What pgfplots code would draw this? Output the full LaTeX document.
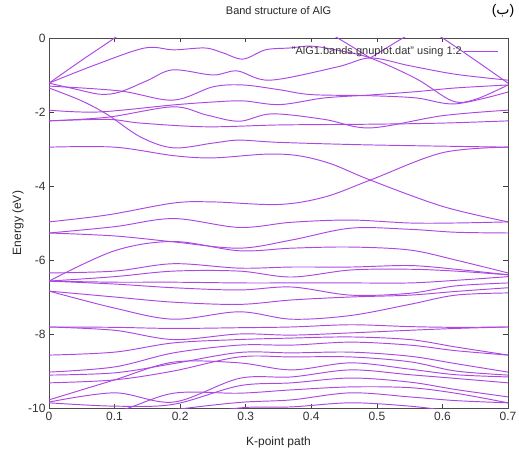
\documentclass[border=0pt]{standalone}
\usepackage{fontspec}
\setmainfont{Liberation Sans}
\newfontfamily\arabicfont[Script=Arabic]{DejaVu Sans}
\TeXXeTstate=1
\usepackage{pgfplots}
\usepackage{pgfplotstable}
\pgfplotsset{compat=1.18}
\definecolor{band}{RGB}{172,72,226}
\pgfplotsset{bandline/.style={color=band, line width=0.95pt, smooth, tension=0.55, mark=none}}

\pgfplotstableread{
k    B1    B2    B3    B4    B5    B6    B7    B8    B9    B10   B11   B12   B13   B14   B15   B16   B17   B18   B19   B20   B21
0    -5.27 -5.27 -6.57 -6.35 -6.57 -6.57 -6.57 -6.84 -6.84 -7.81 -7.81 -8.57 -9.03 -9.11 -9.32 -9.78 -9.84 -9.86 -10.2 -10.5 -11.0
0.1  -5.10 -5.35 -5.75 -6.30 -6.45 -6.60 -6.65 -7.00 -7.30 -7.82 -7.90 -8.49 -8.89 -9.05 -9.24 -9.24 -9.59 -9.95 -10.1 -10.3 -10.6
0.19 -4.88 -5.51 -5.50 -6.10 -6.30 -6.60 -6.75 -7.14 -7.60 -7.85 -8.15 -8.24 -8.51 -8.80 -9.00 -8.76 -9.84 -9.90 -9.60 -10.05 -10.3
0.29 -5.12 -5.68 -5.75 -6.22 -6.30 -6.62 -6.81 -7.20 -7.40 -7.83 -8.00 -8.15 -8.30 -8.50 -8.62 -8.78 -9.20 -9.40 -9.60 -9.85 -10.0
0.37 -4.98 -5.46 -5.68 -6.19 -6.46 -6.62 -6.73 -7.08 -7.60 -7.81 -8.03 -8.11 -8.30 -8.51 -8.62 -8.97 -9.16 -9.32 -9.51 -9.78 -9.97
0.46 -4.92 -5.14 -5.65 -6.19 -6.27 -6.62 -6.95 -7.00 -7.50 -7.75 -7.97 -8.08 -8.22 -8.49 -8.62 -8.78 -8.97 -9.19 -9.43 -9.59 -9.86
0.55 -5.00 -5.17 -5.73 -6.15 -6.25 -6.62 -6.90 -6.95 -7.20 -7.80 -7.90 -8.15 -8.30 -8.60 -8.75 -8.95 -9.10 -9.30 -9.45 -9.70 -9.95
0.62 -5.00 -5.25 -6.00 -6.25 -6.30 -6.55 -6.70 -6.85 -6.95 -7.82 -7.85 -8.35 -8.45 -8.80 -9.00 -9.10 -9.20 -9.50 -9.60 -9.80 -10.1
0.7  -4.97 -5.27 -6.35 -6.40 -6.40 -6.45 -6.62 -6.75 -6.89 -7.81 -7.81 -8.57 -8.57 -9.03 -9.11 -9.16 -9.32 -9.70 -9.86 -9.86 -10.3
}\lowbands

\begin{document}
\begin{tikzpicture}
\path[use as bounding box] (-49pt,-42pt) rectangle (470pt,408pt);
\begin{axis}[
  at={(0pt,0pt)}, anchor=south west,
  scale only axis, width=459pt, height=370pt,
  xmin=0, xmax=0.7, ymin=-10, ymax=0,
  xtick={0,0.1,0.2,0.3,0.4,0.5,0.6,0.7},
  xticklabels={0,0.1,0.2,0.3,0.4,0.5,0.6,0.7},
  ytick={-10,-8,-6,-4,-2,0},
  yticklabels={-10,-8,-6,-4,-2,0},
  tick align=inside,
  major tick length=4.5pt,
  axis line style={black!70, line width=0.9pt},
  every tick/.style={black!75, line width=0.7pt},
  tick label style={font=\fontsize{12}{14}\selectfont, black!80},
  xticklabel style={yshift=-1pt},
  title={Band structure of AlG},
  title style={at={(axis description cs:0.5,1.0568)}, anchor=center, font=\fontsize{11}{13}\selectfont, black!85},
  xlabel={K-point path},
  xlabel style={at={(axis description cs:0.5,-0.0919)}, anchor=center, font=\fontsize{12}{14}\selectfont, black!85},
  ylabel={Energy (eV)},
  ylabel style={at={(axis description cs:-0.0675,0.5)}, anchor=center, font=\fontsize{12}{14}\selectfont, black!85},
  legend style={at={(axis description cs:0.983,0.985)}, anchor=north east, draw=none, fill=none,
    font=\fontsize{11}{13}\selectfont, inner sep=1pt},
  legend plot pos=right,
  legend image code/.code={\color{band}\pgfsetstrokecolor{band}\draw[color=band, line width=1pt] (0cm,0cm) -- (1.2cm,0cm);},
]
% upper bands
\addplot[bandline] coordinates {(0,-1.22)(0.07,-0.73)(0.146,-0.27)(0.19,-0.32)(0.238,-0.27)(0.265,-0.4)(0.296,-0.57)(0.33,-0.32)(0.367,-0.27)(0.40,-0.22)(0.44,-0.33)(0.49,-0.54)(0.56,-1.1)(0.615,-1.7)(0.65,-1.66)(0.7,-1.27)};
\addlegendentry{\textcolor{black!80}{"AlG1.bands.gnuplot.dat" using 1:2}}
\addplot[bandline, forget plot] coordinates {(0,-1.22)(0.05,-0.6)(0.1,0.0)(0.13,0.4)};
\addplot[bandline, forget plot] coordinates {(0,-1.22)(0.04,-1.38)(0.078,-1.52)(0.108,-1.46)(0.15,-1.15)(0.189,-0.86)(0.25,-1.0)(0.287,-0.89)(0.337,-1.14)(0.44,-0.78)(0.49,-0.54)(0.55,-0.75)(0.62,-0.98)(0.7,-1.14)};
\addplot[bandline, forget plot] coordinates {(0.40,0.4)(0.445,-0.05)(0.49,-0.54)};
\addplot[bandline, forget plot] coordinates {(0.49,-0.54)(0.535,-0.05)(0.58,0.4)};
\addplot[bandline, forget plot] coordinates {(0.57,0.3)(0.6,0.0)(0.65,-0.6)(0.7,-1.22)};
\addplot[bandline, forget plot] coordinates {(0,-1.3)(0.108,-1.43)(0.189,-1.68)(0.25,-1.32)(0.296,-1.27)(0.352,-1.4)(0.4,-1.53)(0.49,-1.56)(0.56,-1.62)(0.62,-1.78)(0.7,-1.46)};
\addplot[bandline, forget plot] coordinates {(0,-1.95)(0.075,-2.0)(0.189,-1.81)(0.25,-1.73)(0.296,-1.7)(0.352,-1.8)(0.42,-1.62)(0.49,-1.54)(0.56,-1.45)(0.62,-1.35)(0.7,-1.27)};
\addplot[bandline, forget plot] coordinates {(0,-2.24)(0.09,-2.14)(0.189,-1.86)(0.24,-2.08)(0.29,-2.25)(0.34,-2.05)(0.42,-2.2)(0.49,-2.43)(0.6,-2.1)(0.7,-1.95)};
\addplot[bandline, forget plot] coordinates {(0,-2.24)(0.09,-2.2)(0.14,-2.3)(0.24,-2.4)(0.352,-2.35)(0.49,-2.33)(0.6,-2.3)(0.7,-2.24)};
\addplot[bandline, forget plot] coordinates {(0,-1.35)(0.05,-1.7)(0.09,-2.08)(0.14,-2.68)(0.19,-2.97)(0.25,-2.84)(0.29,-2.76)(0.35,-2.82)(0.49,-2.89)(0.7,-2.95)};
\addplot[bandline, forget plot] coordinates {(0,-2.95)(0.1,-2.95)(0.19,-3.18)(0.25,-3.24)(0.33,-3.14)(0.38,-3.18)(0.43,-3.4)(0.49,-3.84)(0.6,-4.55)(0.7,-4.97)};
\addplot[bandline, forget plot] coordinates {(0,-4.97)(0.09,-4.78)(0.19,-4.46)(0.25,-4.43)(0.35,-4.5)(0.42,-4.3)(0.49,-3.84)(0.6,-3.1)(0.7,-2.95)};
% lower bands
\foreach \b in {B1,B2,B3,B4,B5,B6,B7,B8,B9,B10,B11,B12,B13,B14,B15,B16,B17,B18,B19,B20,B21}{
  \addplot[bandline, forget plot] table[x=k, y=\b] {\lowbands};
}
\end{axis}
\node[font=\fontsize{14}{16}\selectfont, anchor=center] at (454pt,397pt) {({\arabicfont\beginR ب\endR})};
\end{tikzpicture}
\end{document}
